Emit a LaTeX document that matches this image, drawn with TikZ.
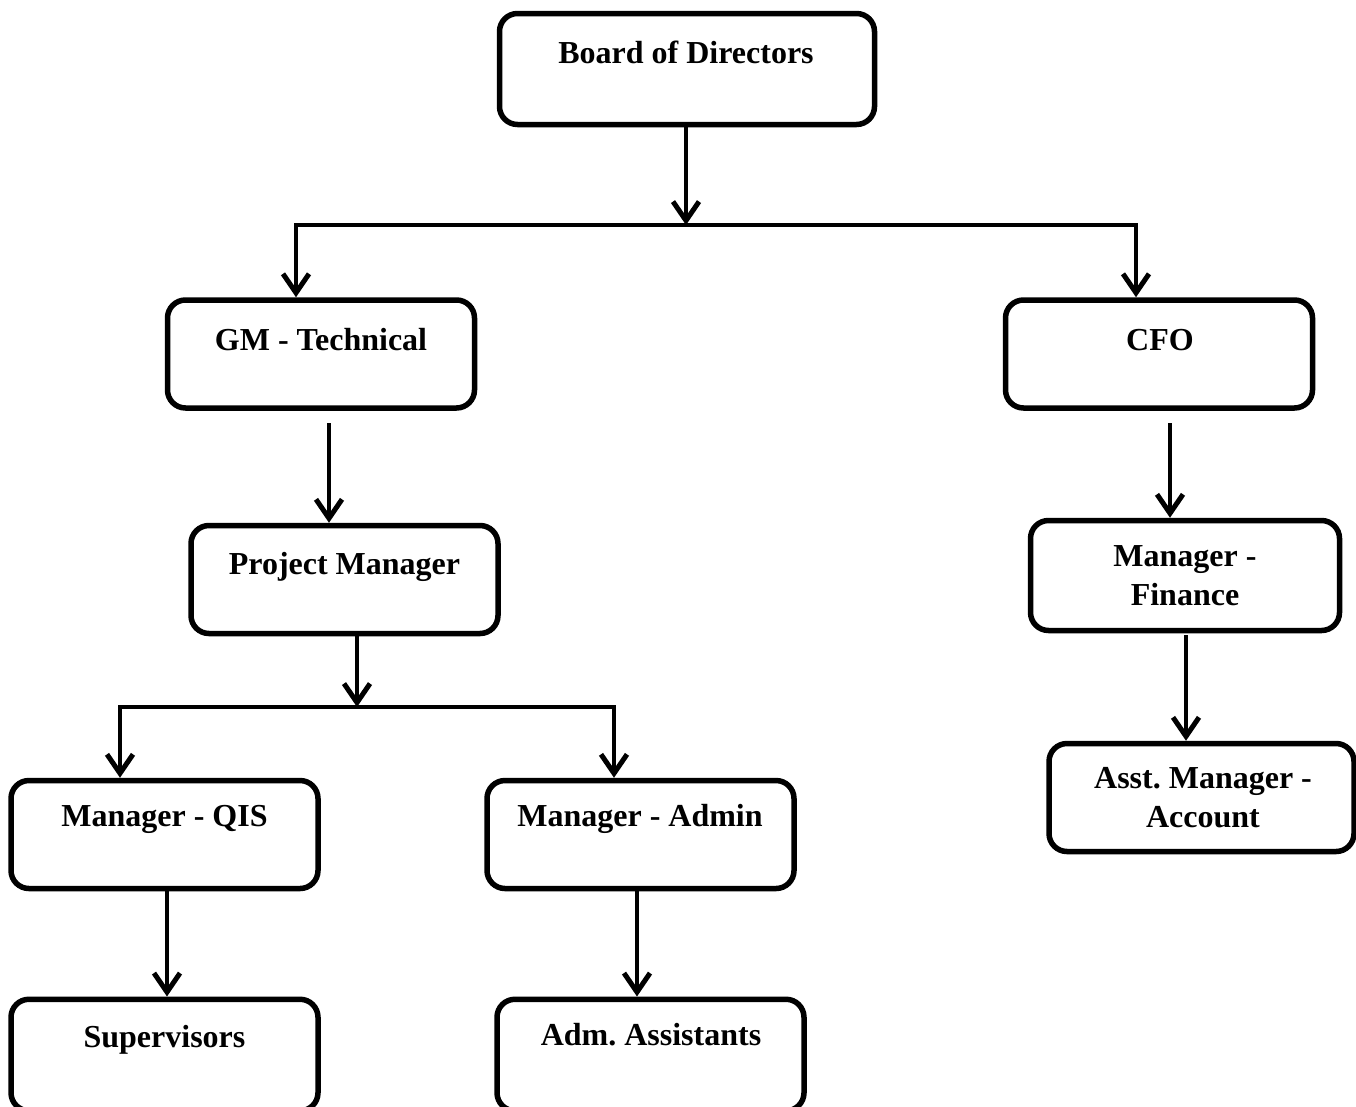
\documentclass[tikz,border=0pt]{standalone}
\usepackage{fontspec}
\setmainfont{Liberation Serif}
\usetikzlibrary{arrows.meta}
\begin{document}
\frenchspacing
\begin{tikzpicture}[x=1pt,y=-1pt,
  box/.style={draw, line width=5.5pt, rounded corners=18pt, minimum width=307pt, minimum height=108pt, inner sep=0pt},
  lbl/.style={font=\fontsize{32}{38.5}\selectfont\bfseries, align=center, inner sep=0pt},
  conn/.style={line width=4.5pt, line join=miter, -{Straight Barb[length=19pt,width=26pt,line width=5pt]}}]
\useasboundingbox (0,0) rectangle (1356,1106);
\clip (0,0) rectangle (1356,1106);

% boxes
\node[box, minimum width=375pt, minimum height=111pt] (bod) at (687,69) {};
\node[box] (gm) at (321,354) {};
\node[box] (cfo) at (1159,354) {};
\node[box] (pm) at (344.5,579.5) {};
\node[box, minimum width=309pt, minimum height=110pt] (mf) at (1185,575.5) {};
\node[box, minimum width=305pt] (am) at (1201.5,797.5) {};
\node[box] (qis) at (164.5,834.5) {};
\node[box] (adm) at (640.5,834.5) {};
\node[box, minimum height=111.5pt] (sup) at (164.5,1055) {};
\node[box, minimum height=111.5pt] (asst) at (650.5,1055) {};

% labels
\node[lbl, anchor=base] (bodT) at (686,63) {Board of Directors};
\node[lbl, anchor=base] (gmT) at (321,350) {GM - Technical};
\node[lbl, anchor=base] (cfoT) at (1160,350) {CFO};
\node[lbl, anchor=base] (pmT) at (344.5,574) {Project Manager};
\node[lbl, anchor=base] (mfT) at (1185,605) {Manager -\\Finance};
\node[lbl, anchor=base] (amT) at (1203,827) {Asst. Manager -\\Account};
\node[lbl, anchor=base] (qisT) at (164.5,826) {Manager - QIS};
\node[lbl, anchor=base] (admT) at (640,826) {Manager - Admin};
\node[lbl, anchor=base] (supT) at (164.5,1047) {Supervisors};
\node[lbl, anchor=base] (asstT) at (651,1045) {Adm. Assistants};

% junctions
\coordinate (j1) at (686,225);
\coordinate (j1l) at (296,225);
\coordinate (j1r) at (1136,225);
\coordinate (j2) at (357,707);
\coordinate (j2l) at (120,707);
\coordinate (j2r) at (614,707);

% connectors
\draw[conn] (bod.south -| j1) -- (j1);
\draw[conn] (j1) -- (j1l) -- (j1l |- gm.north);
\draw[conn] (j1) -- (j1r) -- (j1r |- cfo.north);
\draw[conn] ([xshift=8pt,yshift=-12.5pt]gm.south) -- ([xshift=-15.5pt]pm.north);
\draw[conn] ([xshift=11pt,yshift=-12.5pt]cfo.south) -- ([xshift=-15pt]mf.north);
\draw[conn] ([xshift=12.5pt]pm.south) -- (j2);
\draw[conn] (j2) -- (j2l) -- (j2l |- qis.north);
\draw[conn] (j2) -- (j2r) -- (j2r |- adm.north);
\draw[conn] ([xshift=1pt,yshift=-2pt]mf.south) -- ([xshift=-15.5pt]am.north);
\draw[conn] ([xshift=2.5pt]qis.south) -- ([xshift=2.5pt]sup.north);
\draw[conn] ([xshift=-3.5pt]adm.south) -- ([xshift=-13.5pt]asst.north);
\end{tikzpicture}
\end{document}
